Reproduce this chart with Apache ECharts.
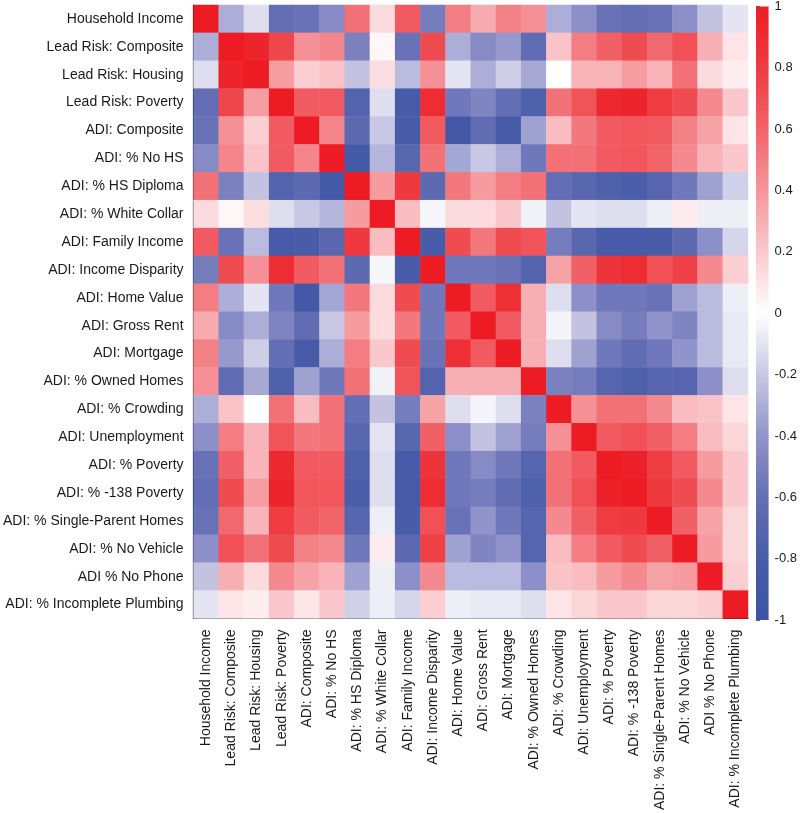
<!DOCTYPE html>
<html>
<head>
<meta charset="utf-8">
<script src="https://cdn.jsdelivr.net/npm/echarts@6/dist/echarts.min.js"></script>
<style>
  html, body { margin: 0; padding: 0; background: #fff; }
  #main { width: 800px; height: 813px; }
</style>
</head>
<body>
<div id="main"></div>
<script>
// variable names (rows top to bottom, columns left to right)
const labels = [
  'Household Income', 'Lead Risk: Composite', 'Lead Risk: Housing', 'Lead Risk: Poverty',
  'ADI: Composite', 'ADI: % No HS', 'ADI: % HS Diploma', 'ADI: % White Collar',
  'ADI: Family Income', 'ADI: Income Disparity', 'ADI: Home Value', 'ADI: Gross Rent',
  'ADI: Mortgage', 'ADI: % Owned Homes', 'ADI: % Crowding', 'ADI: Unemployment',
  'ADI: % Poverty', 'ADI: % -138 Poverty', 'ADI: % Single-Parent Homes', 'ADI: % No Vehicle',
  'ADI % No Phone', 'ADI: % Incomplete Plumbing'
];

// lower triangle of the correlation matrix (matrix is symmetric)
const corrLower = [
  [1],
  [-0.3, 1],
  [-0.12, 0.95, 1],
  [-0.6, 0.75, 0.37, 1],
  [-0.58, 0.42, 0.18, 0.65, 1],
  [-0.45, 0.47, 0.22, 0.65, 0.47, 1],
  [0.55, -0.5, -0.22, -0.72, -0.65, -0.85, 1],
  [0.13, 0.03, 0.12, -0.12, -0.2, -0.27, 0.38, 1],
  [0.65, -0.58, -0.25, -0.82, -0.8, -0.68, 0.82, 0.25, 1],
  [-0.52, 0.72, 0.42, 0.9, 0.65, 0.55, -0.65, -0.03, -0.8, 1],
  [0.5, -0.3, -0.1, -0.55, -0.87, -0.33, 0.52, 0.13, 0.72, -0.55, 1],
  [0.32, -0.45, -0.3, -0.48, -0.62, -0.2, 0.38, 0.13, 0.52, -0.55, 0.65, 1],
  [0.48, -0.38, -0.18, -0.6, -0.82, -0.3, 0.5, 0.2, 0.72, -0.58, 0.88, 0.65, 1],
  [0.42, -0.62, -0.32, -0.75, -0.35, -0.55, 0.55, -0.05, 0.68, -0.72, 0.3, 0.3, 0.3, 1],
  [-0.3, 0.22, 0.0, 0.55, 0.25, 0.55, -0.6, -0.22, -0.52, 0.35, -0.12, -0.04, -0.12, -0.5, 1],
  [-0.42, 0.5, 0.28, 0.68, 0.52, 0.55, -0.68, -0.1, -0.68, 0.62, -0.42, -0.22, -0.35, -0.52, 0.42, 1],
  [-0.58, 0.62, 0.28, 0.92, 0.65, 0.65, -0.75, -0.12, -0.82, 0.85, -0.55, -0.45, -0.55, -0.7, 0.55, 0.65, 1],
  [-0.6, 0.72, 0.37, 0.95, 0.67, 0.67, -0.78, -0.12, -0.82, 0.9, -0.55, -0.52, -0.62, -0.75, 0.55, 0.7, 0.97, 1],
  [-0.58, 0.58, 0.28, 0.8, 0.65, 0.6, -0.7, -0.06, -0.8, 0.7, -0.58, -0.4, -0.55, -0.7, 0.45, 0.62, 0.8, 0.82, 1],
  [-0.42, 0.7, 0.55, 0.72, 0.48, 0.45, -0.55, 0.07, -0.65, 0.78, -0.35, -0.48, -0.4, -0.7, 0.25, 0.5, 0.65, 0.72, 0.62, 1],
  [-0.22, 0.3, 0.13, 0.45, 0.35, 0.28, -0.35, -0.06, -0.42, 0.45, -0.25, -0.25, -0.25, -0.42, 0.22, 0.25, 0.38, 0.45, 0.35, 0.38, 1],
  [-0.1, 0.1, 0.06, 0.2, 0.1, 0.2, -0.17, -0.06, -0.15, 0.18, -0.06, -0.08, -0.08, -0.12, 0.1, 0.15, 0.2, 0.2, 0.15, 0.15, 0.18, 1]
];

// colour scale from -1 to 1
const scaleColors = ['#3A53A4', '#485CA8', '#646EB4', '#9194CA', '#C8C8E4', '#FFFFFF',
  '#FAC8CC', '#F5969B', '#F1646A', '#EE3C42', '#ED1C24'];
const colorbarRange = [-1, 1];

const FONT = 'Liberation Sans, Arial, Helvetica, sans-serif';

let cells = [];
for (let i = 0; i < labels.length; i++) {
  for (let j = 0; j < labels.length; j++) {
    const v = i >= j ? corrLower[i][j] : corrLower[j][i];
    cells.push([j, i, v]);
  }
}

const chart = echarts.init(document.getElementById('main'));

let option = {
  animation: false,
  backgroundColor: '#fff',
  grid: [
    { left: 193, top: 5, width: 555, height: 614, containLabel: false },
    { left: 756, top: 5, width: 17, height: 615, containLabel: false }
  ],
  xAxis: [
    {
      type: 'category',
      gridIndex: 0,
      data: labels,
      position: 'bottom',
      axisLine: { lineStyle: { color: '#000', width: 1.2 } },
      axisTick: { alignWithLabel: true, length: 6, lineStyle: { color: '#000' } },
      axisLabel: { rotate: 90, interval: 0, margin: 11, color: '#1a1a1a', fontSize: 14, fontFamily: FONT },
      splitLine: { show: false }
    },
    { type: 'value', gridIndex: 1, min: 0, max: 1, show: false }
  ],
  yAxis: [
    {
      type: 'category',
      gridIndex: 0,
      data: labels,
      inverse: true,
      axisLine: { lineStyle: { color: '#000', width: 1.2 } },
      axisTick: { alignWithLabel: true, length: 6, lineStyle: { color: '#000' } },
      axisLabel: { interval: 0, margin: 10, color: '#1a1a1a', fontSize: 14, fontFamily: FONT },
      splitLine: { show: false }
    },
    {
      type: 'value',
      gridIndex: 1,
      position: 'right',
      min: -1,
      max: 1,
      interval: 0.2,
      axisLine: { show: true, lineStyle: { color: '#888', width: 1 } },
      axisTick: { show: true, inside: false, length: 4, lineStyle: { color: '#666' } },
      axisLabel: { margin: 6, color: '#1a1a1a', fontSize: 13, fontFamily: FONT,
        formatter: v => String(Math.round(v * 10) / 10) },
      splitLine: { show: false }
    }
  ],
  visualMap: {
    show: false,
    type: 'continuous',
    seriesIndex: 0,
    min: -1,
    max: 1,
    inRange: { color: scaleColors }
  },
  series: [
    {
      type: 'heatmap',
      xAxisIndex: 0,
      yAxisIndex: 0,
      data: cells,
      itemStyle: { borderWidth: 0 },
      emphasis: { disabled: true }
    },
    {
      // colour bar drawn along its own value axis
      type: 'custom',
      xAxisIndex: 1,
      yAxisIndex: 1,
      data: [colorbarRange],
      renderItem: function (params, api) {
        const p1 = api.coord([0, api.value(1)]);
        const p2 = api.coord([1, api.value(0)]);
        const stops = scaleColors.slice().reverse().map((c, k, arr) => ({ offset: k / (arr.length - 1), color: c }));
        return {
          type: 'rect',
          shape: { x: p1[0], y: p1[1], width: p2[0] - p1[0], height: p2[1] - p1[1] },
          style: { fill: new echarts.graphic.LinearGradient(0, 0, 0, 1, stops) }
        };
      },
      silent: true
    }
  ]
};

chart.setOption(option);
</script>
</body>
</html>
